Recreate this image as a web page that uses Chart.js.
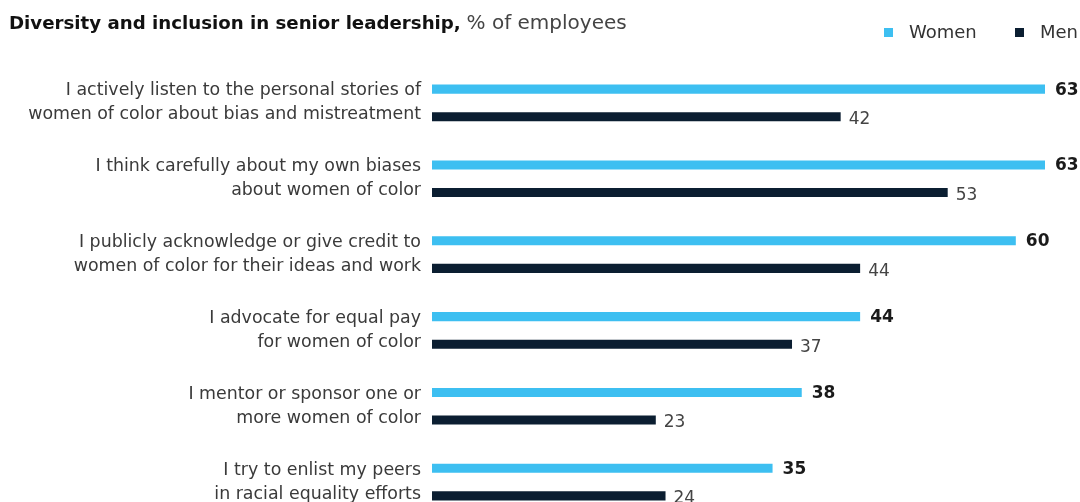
<!DOCTYPE html>
<html>
<head>
<meta charset="utf-8">
<script src="https://cdn.jsdelivr.net/npm/chart.js@4"></script>
<style>
  html, body { margin: 0; padding: 0; background: #fff; overflow: hidden; }
  #wrap { position: relative; width: 1080px; height: 560px; }
  #title { position: absolute; left: 9px; top: 10px; font-family: "DejaVu Sans", sans-serif; font-size: 18.2px; color: #111; white-space: nowrap; }
  #title b { font-weight: bold; }
  #title span { color: #444; font-size: 20px; }
  #legend { position: absolute; top: 21px; left: 884px; font-family: "DejaVu Sans", sans-serif; font-size: 18px; color: #333; white-space: nowrap; }
  #legend .item { position: absolute; top: 0; }
  #legend .sw { position: absolute; top: 7px; width: 9px; height: 9px; }
  #legend .lbl { position: absolute; top: 0; }
</style>
</head>
<body>
<div id="wrap">
  <div id="title"><b>Diversity and inclusion in senior leadership,</b> <span>% of employees</span></div>
  <div id="legend"></div>
  <canvas id="chart" width="1080" height="560"></canvas>
</div>
<script>
// survey statements, one per group
const categories = [
  ["I actively listen to the personal stories of", "women of color about bias and mistreatment"],
  ["I think carefully about my own biases", "about women of color"],
  ["I publicly acknowledge or give credit to", "women of color for their ideas and work"],
  ["I advocate for equal pay", "for women of color"],
  ["I mentor or sponsor one or", "more women of color"],
  ["I try to enlist my peers", "in racial equality efforts"]
];
const women = [63, 63, 60, 44, 38, 35];
const men = [42, 53, 44, 37, 23, 24];
const seriesNames = ["Women", "Men"];
const seriesColors = ["#3dbff1", "#0b1e31"];

// legend in the top right corner
const legend = document.getElementById("legend");
const legendX = [0, 131];
seriesNames.forEach((name, i) => {
  const item = document.createElement("div");
  item.className = "item";
  item.style.left = legendX[i] + "px";
  item.innerHTML = `<div class="sw" style="left:0;background:${seriesColors[i]}"></div><div class="lbl" style="left:25px">${name}</div>`;
  legend.appendChild(item);
});

// value labels at the end of each bar
const valueLabels = {
  id: "valueLabels",
  afterDatasetsDraw(chart) {
    const ctx = chart.ctx;
    ctx.save();
    ctx.textBaseline = "middle";
    ctx.textAlign = "left";
    chart.data.datasets.forEach((ds, di) => {
      const meta = chart.getDatasetMeta(di);
      meta.data.forEach((bar, i) => {
        if (di === 0) {
          ctx.font = "bold 17px 'DejaVu Sans', sans-serif";
          ctx.fillStyle = "#1a1a1a";
          ctx.fillText(ds.data[i], bar.x + 10, bar.y + 1);
        } else {
          ctx.font = "17px 'DejaVu Sans', sans-serif";
          ctx.fillStyle = "#444";
          ctx.fillText(ds.data[i], bar.x + 8, bar.y + 3);
        }
      });
    });
    ctx.restore();
  }
};

new Chart(document.getElementById("chart"), {
  type: "bar",
  data: {
    labels: categories,
    datasets: [
      { label: seriesNames[0], data: women, backgroundColor: seriesColors[0] },
      { label: seriesNames[1], data: men, backgroundColor: seriesColors[1] }
    ]
  },
  options: {
    indexAxis: "y",
    responsive: false,
    animation: false,
    layout: { padding: { top: 65, right: 35, bottom: 40, left: 0 } },
    datasets: {
      bar: { categoryPercentage: 0.726, barPercentage: 0.33 }
    },
    plugins: {
      legend: { display: false },
      tooltip: { enabled: false }
    },
    scales: {
      x: { display: false, min: 0, max: 63 },
      y: {
        grid: { display: false, drawTicks: false },
        border: { display: false },
        afterFit(scale) { scale.width = 432; },
        ticks: {
          padding: 11,
          color: "#3a3a3a",
          font: { family: "'DejaVu Sans', sans-serif", size: 17.4, lineHeight: 1.38 }
        }
      }
    }
  },
  plugins: [valueLabels]
});
</script>
</body>
</html>
